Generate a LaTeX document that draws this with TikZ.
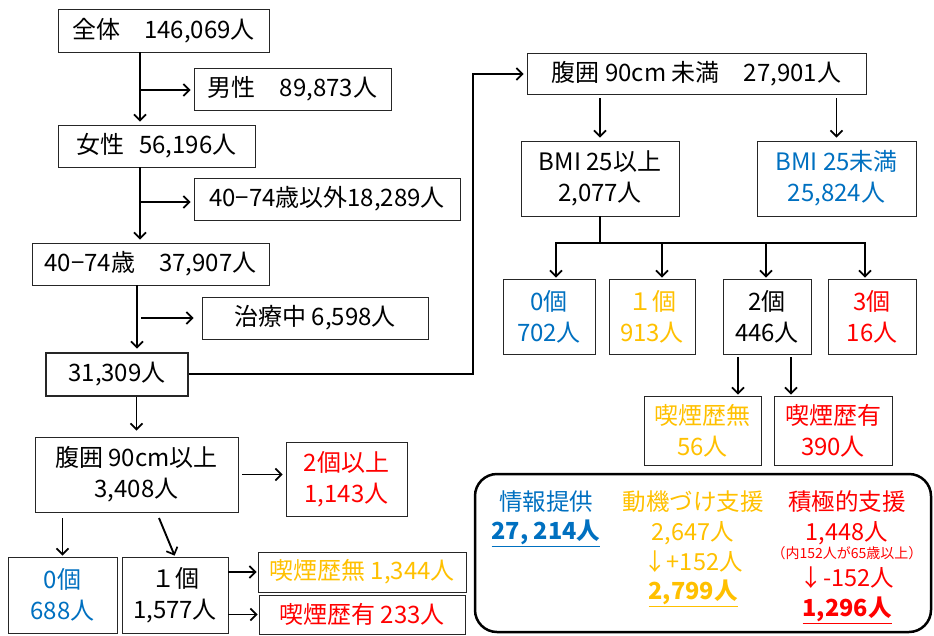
\documentclass[tikz,border=0pt]{standalone}
\usepackage{fontspec}
\setmainfont{Noto Sans CJK JP}
\usetikzlibrary{arrows.meta,calc}
\definecolor{cblue}{HTML}{0070C0}
\definecolor{cyel}{HTML}{FFC000}
\definecolor{cred}{HTML}{FF0000}
\begin{document}
\begin{tikzpicture}[x=1pt,y=-1pt,
  box/.style={draw=black!85, line width=0.9pt, inner sep=0pt, align=center, font=\fontsize{24}{31}\selectfont},
  sz/.style 2 args={minimum width=#1pt, minimum height=#2pt},
  arr/.style={line width=1.9pt, -{Straight Barb[length=6pt,width=12pt,line width=1.7pt]}, shorten >=3pt},
  ln/.style={line width=1.9pt},
  lt/.style={inner sep=0pt, align=center, font=\fontsize{23.5}{28}\selectfont}]
\useasboundingbox (0,0) rectangle (934,635);

% left column
\node[box, sz={211}{43}] (all) at (163.5,30.5) {全体　146,069人};
\node[box, sz={197}{42}] (male) at (292.5,89) {男性　89,873人};
\node[box, sz={197}{42}] (fem) at (156.5,146) {女性\hspace{0.6em}56,196人};
\node[box, sz={266}{42}] (notage) at (327,199) {40−74歳以外18,289人};
\node[box, sz={237}{42}] (age) at (150.5,264) {40−74歳　37,907人};
\node[box, sz={226}{42}] (treat) at (315,318) {治療中 6,598人};
\node[box, sz={142}{43}, line width=2.8pt] (tgt) at (117,374.5) {31,309人};
\node[box, sz={203}{75}] (over90) at (136.5,474.5) {腹囲 90cm以上\\3,408人};
\node[box, sz={121}{74}, text=cred] (two) at (346.5,479) {2個以上\\1,143人};
\node[box, sz={109}{76}, text=cblue] (zeroL) at (62.5,595) {0個\\688人};
\node[box, sz={106}{76}] (oneL) at (175,595) {１個\\1,577人};
\node[box, sz={208}{40}, text=cyel] (nosmL) at (362,572) {喫煙歴無 1,344人};
\node[box, sz={206}{39}, text=cred] (smL) at (362,614.5) {喫煙歴有 233人};

% right column
\node[box, sz={339}{41}] (under90) at (696.5,73.5) {腹囲 90cm 未満　27,901人};
\node[box, sz={158}{75}] (bmiHi) at (600,178.5) {BMI 25以上\\2,077人};
\node[box, sz={159}{75}, text=cblue] (bmiLo) at (836.5,178.5) {BMI 25未満\\25,824人};
\node[box, sz={92}{75}, text=cblue] (r0) at (549,316.5) {0個\\702人};
\node[box, sz={86}{75}, text=cyel] (r1) at (652,316.5) {１個\\913人};
\node[box, sz={88}{75}] (r2) at (767,316.5) {2個\\446人};
\node[box, sz={88}{75}, text=cred] (r3) at (872,316.5) {3個\\16人};
\node[box, sz={117}{69}, text=cyel] (nosmR) at (702.5,430.5) {喫煙歴無\\56人};
\node[box, sz={118}{69}, text=cred] (smR) at (833,430.5) {喫煙歴有\\390人};

% legend
\node[draw, line width=2.5pt, rounded corners=22pt, sz={456}{158}] (leg) at (703,553) {};
\node[lt, text=cblue] (l1) at (546,502) {情報提供};
\node[lt, text=cblue, font=\fontsize{23.5}{28}\selectfont\bfseries] (l1b) at (546,533) {\underline{27, 214人}};
\node[lt, text=cyel] (l2) at (693,502) {動機づけ支援};
\node[lt, text=cyel] (l2b) at (693,533) {2,647人};
\node[lt, text=cyel] (l2c) at (693,562) {↓+152人};
\node[lt, text=cyel, font=\fontsize{23.5}{28}\selectfont\bfseries] (l2d) at (693,593) {\underline{2,799人}};
\node[lt, text=cred] (l3) at (847,502) {積極的支援};
\node[lt, text=cred] (l3b) at (847,533) {1,448人};
\node[lt, text=cred, font=\fontsize{14}{16}\selectfont] (l3c) at (847,553) {（内152人が65歳以上）};
\node[lt, text=cred] (l3d) at (847,578) {↓-152人};
\node[lt, text=cred, font=\fontsize{23.5}{28}\selectfont\bfseries] (l3e) at (847,610) {\underline{1,296人}};

% connectors left
\coordinate (j1) at (140,90);
\coordinate (j2) at (140,202);
\coordinate (j3) at (137,318);
\draw[arr] (all.south -| j1) -- (fem.north -| j1);
\draw[arr] (j1) -- (male.west |- j1);
\draw[arr] (fem.south -| j2) -- (age.north -| j2);
\draw[arr] (j2) -- (notage.west |- j2);
\draw[arr] (age.south -| j3) -- (tgt.north -| j3);
\draw[arr, shorten >=8pt] ([xshift=4pt]j3) -- (treat.west |- j3);
\coordinate (c1) at (473,374);
\coordinate (c2) at (473,74);
\draw[arr] (tgt.east |- c1) -- (c1) -- (c2) -- (under90.west |- c2);
\draw[arr, shorten >=6pt] (tgt.south -| over90.north) -- (over90.north);
\draw[arr] ([xshift=4pt]over90.east) -- (two.west |- over90.east);
\draw[arr, shorten >=1pt] ([yshift=-6pt]over90.south -| zeroL.north) -- (zeroL.north);
\coordinate (d1) at (159,518);
\draw[arr, shorten >=1pt] (d1) -- (oneL.north);
\draw[arr, shorten >=1pt] (oneL.east |- nosmL.west) -- (nosmL.west);
\draw[arr, shorten >=1pt] (oneL.east |- smL.west) -- (smL.west);

% connectors right
\draw[arr] ([yshift=-4pt]under90.south -| bmiHi.north) -- (bmiHi.north);
\draw[arr] ([yshift=-4pt]under90.south -| bmiLo.north) -- (bmiLo.north);
\coordinate (t) at (600,243);
\coordinate (b0) at (556,243);
\coordinate (b1) at (662,243);
\coordinate (b2) at (766,243);
\coordinate (b3) at (865,243);
\draw[ln] (bmiHi.south) -- (t);
\draw[ln, line cap=rect] (b0) -- (b3);
\draw[arr, shorten >=1pt] (b0) -- (r0.north -| b0);
\draw[arr, shorten >=1pt] (b1) -- (r1.north -| b1);
\draw[arr, shorten >=1pt] (b2) -- (r2.north -| b2);
\draw[arr, shorten >=1pt] (b3) -- (r3.north -| b3);
\coordinate (e1) at (738,357);
\coordinate (e2) at (791,357);
\draw[arr, shorten >=1pt] (e1) -- (nosmR.north -| e1);
\draw[arr, shorten >=1pt] (e2) -- (smR.north -| e2);
\end{tikzpicture}
\end{document}
